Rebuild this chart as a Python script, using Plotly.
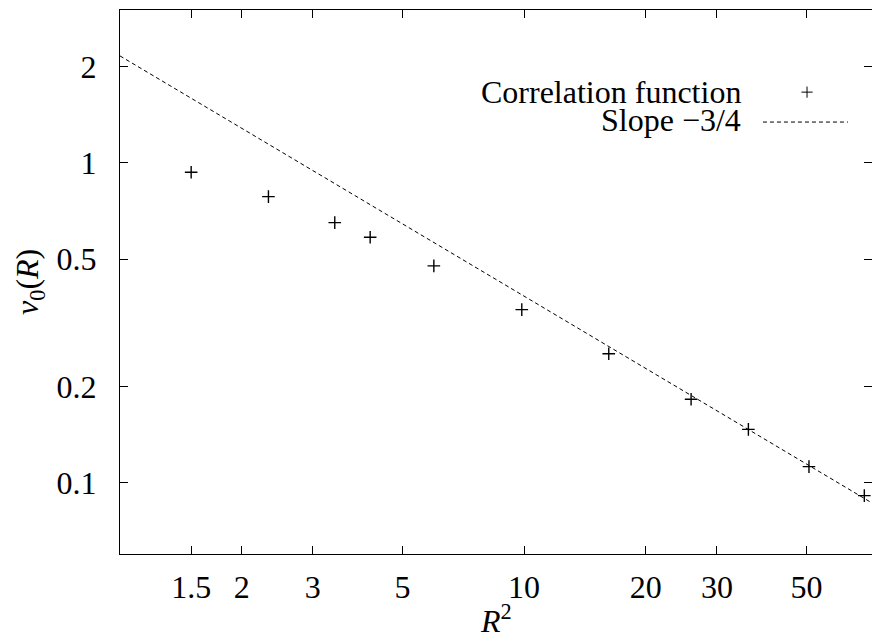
import plotly.graph_objects as go

# Data
R2 = [1.5, 2.33, 3.40, 4.16, 5.98, 9.87, 16.2, 25.9, 35.9, 50.7, 69.5]
v0 = [0.935, 0.785, 0.651, 0.586, 0.477, 0.348, 0.2535, 0.1826, 0.147, 0.1125, 0.0913]

slope_x = [1.0, 72.6]
slope_y = [2.16, 0.0866]

x_tickvals = [1.5, 2, 3, 5, 10, 20, 30, 50]
x_ticktext = ["1.5", "2", "3", "5", "10", "20", "30", "50"]
y_tickvals = [0.1, 0.2, 0.5, 1, 2]
y_ticktext = ["0.1", "0.2", "0.5", "1", "2"]

legend_names = ["Correlation function", "Slope \u22123/4"]

FONT = "Liberation Serif, Times New Roman, serif"
FS = 32

fig = go.Figure()
fig.add_trace(go.Scatter(x=slope_x, y=slope_y, mode="lines",
                         line=dict(color="black", width=1, dash="4px,3px"),
                         showlegend=False, hoverinfo="skip"))
fig.add_trace(go.Scatter(x=R2, y=v0, mode="markers",
                         marker=dict(symbol="cross-thin", size=9,
                                     line=dict(color="black", width=1.4)),
                         showlegend=False))

# legend samples on an overlay paper-like axis
fig.add_trace(go.Scatter(x=[0.9136], y=[0.849], mode="markers", xaxis="x2", yaxis="y2",
                         marker=dict(symbol="cross-thin", size=8,
                                     line=dict(color="black", width=1)),
                         showlegend=False, hoverinfo="skip"))
fig.add_trace(go.Scatter(x=[0.855, 0.968], y=[0.794, 0.794], mode="lines", xaxis="x2", yaxis="y2",
                         line=dict(color="black", width=1, dash="4px,3px"),
                         showlegend=False, hoverinfo="skip"))

axis_common = dict(showgrid=False, zeroline=False, showline=True, linecolor="black",
                   linewidth=1.2, mirror="ticks", ticks="inside", ticklen=8,
                   tickcolor="black", tickwidth=1.2,
                   tickfont=dict(family=FONT, size=FS, color="black"))

fig.update_layout(
    width=872, height=637,
    margin=dict(l=120, r=0, t=10, b=83),
    plot_bgcolor="white", paper_bgcolor="white",
    xaxis=dict(type="log", range=[0, 1.861], tickmode="array",
               tickvals=x_tickvals, ticktext=x_ticktext, ticklabelstandoff=4,
               **axis_common),
    yaxis=dict(type="log", range=[-1.222, 0.478], tickmode="array",
               tickvals=y_tickvals, ticktext=y_ticktext, ticklabelstandoff=16,
               **axis_common),
    xaxis2=dict(overlaying="x", range=[0, 1], visible=False),
    yaxis2=dict(overlaying="y", range=[0, 1], visible=False),
    showlegend=False,
)

fig.add_annotation(text=legend_names[0], xref="paper", yref="paper", x=0.8285, y=0.849,
                   xanchor="right", yanchor="middle", showarrow=False,
                   font=dict(family=FONT, size=FS, color="black"))
fig.add_annotation(text=legend_names[1], xref="paper", yref="paper", x=0.8285, y=0.797,
                   xanchor="right", yanchor="middle", showarrow=False,
                   font=dict(family=FONT, size=FS, color="black"))

fig.add_annotation(text="<i>R</i><sup>2</sup>", xref="paper", yref="paper", x=0.5, y=0,
                   yshift=-43, xanchor="center", yanchor="top", showarrow=False,
                   font=dict(family=FONT, size=FS, color="black"))
fig.add_annotation(text="<i>v</i><sub>0</sub>(<i>R</i>)", xref="paper", yref="paper",
                   x=0, xshift=-91, y=0.5, xanchor="center", yanchor="middle",
                   textangle=-90, showarrow=False,
                   font=dict(family=FONT, size=FS, color="black"))

fig.write_html("out.html", config={"displayModeBar": False},
               post_script="document.body.style.margin='0';document.body.style.overflow='hidden';")
